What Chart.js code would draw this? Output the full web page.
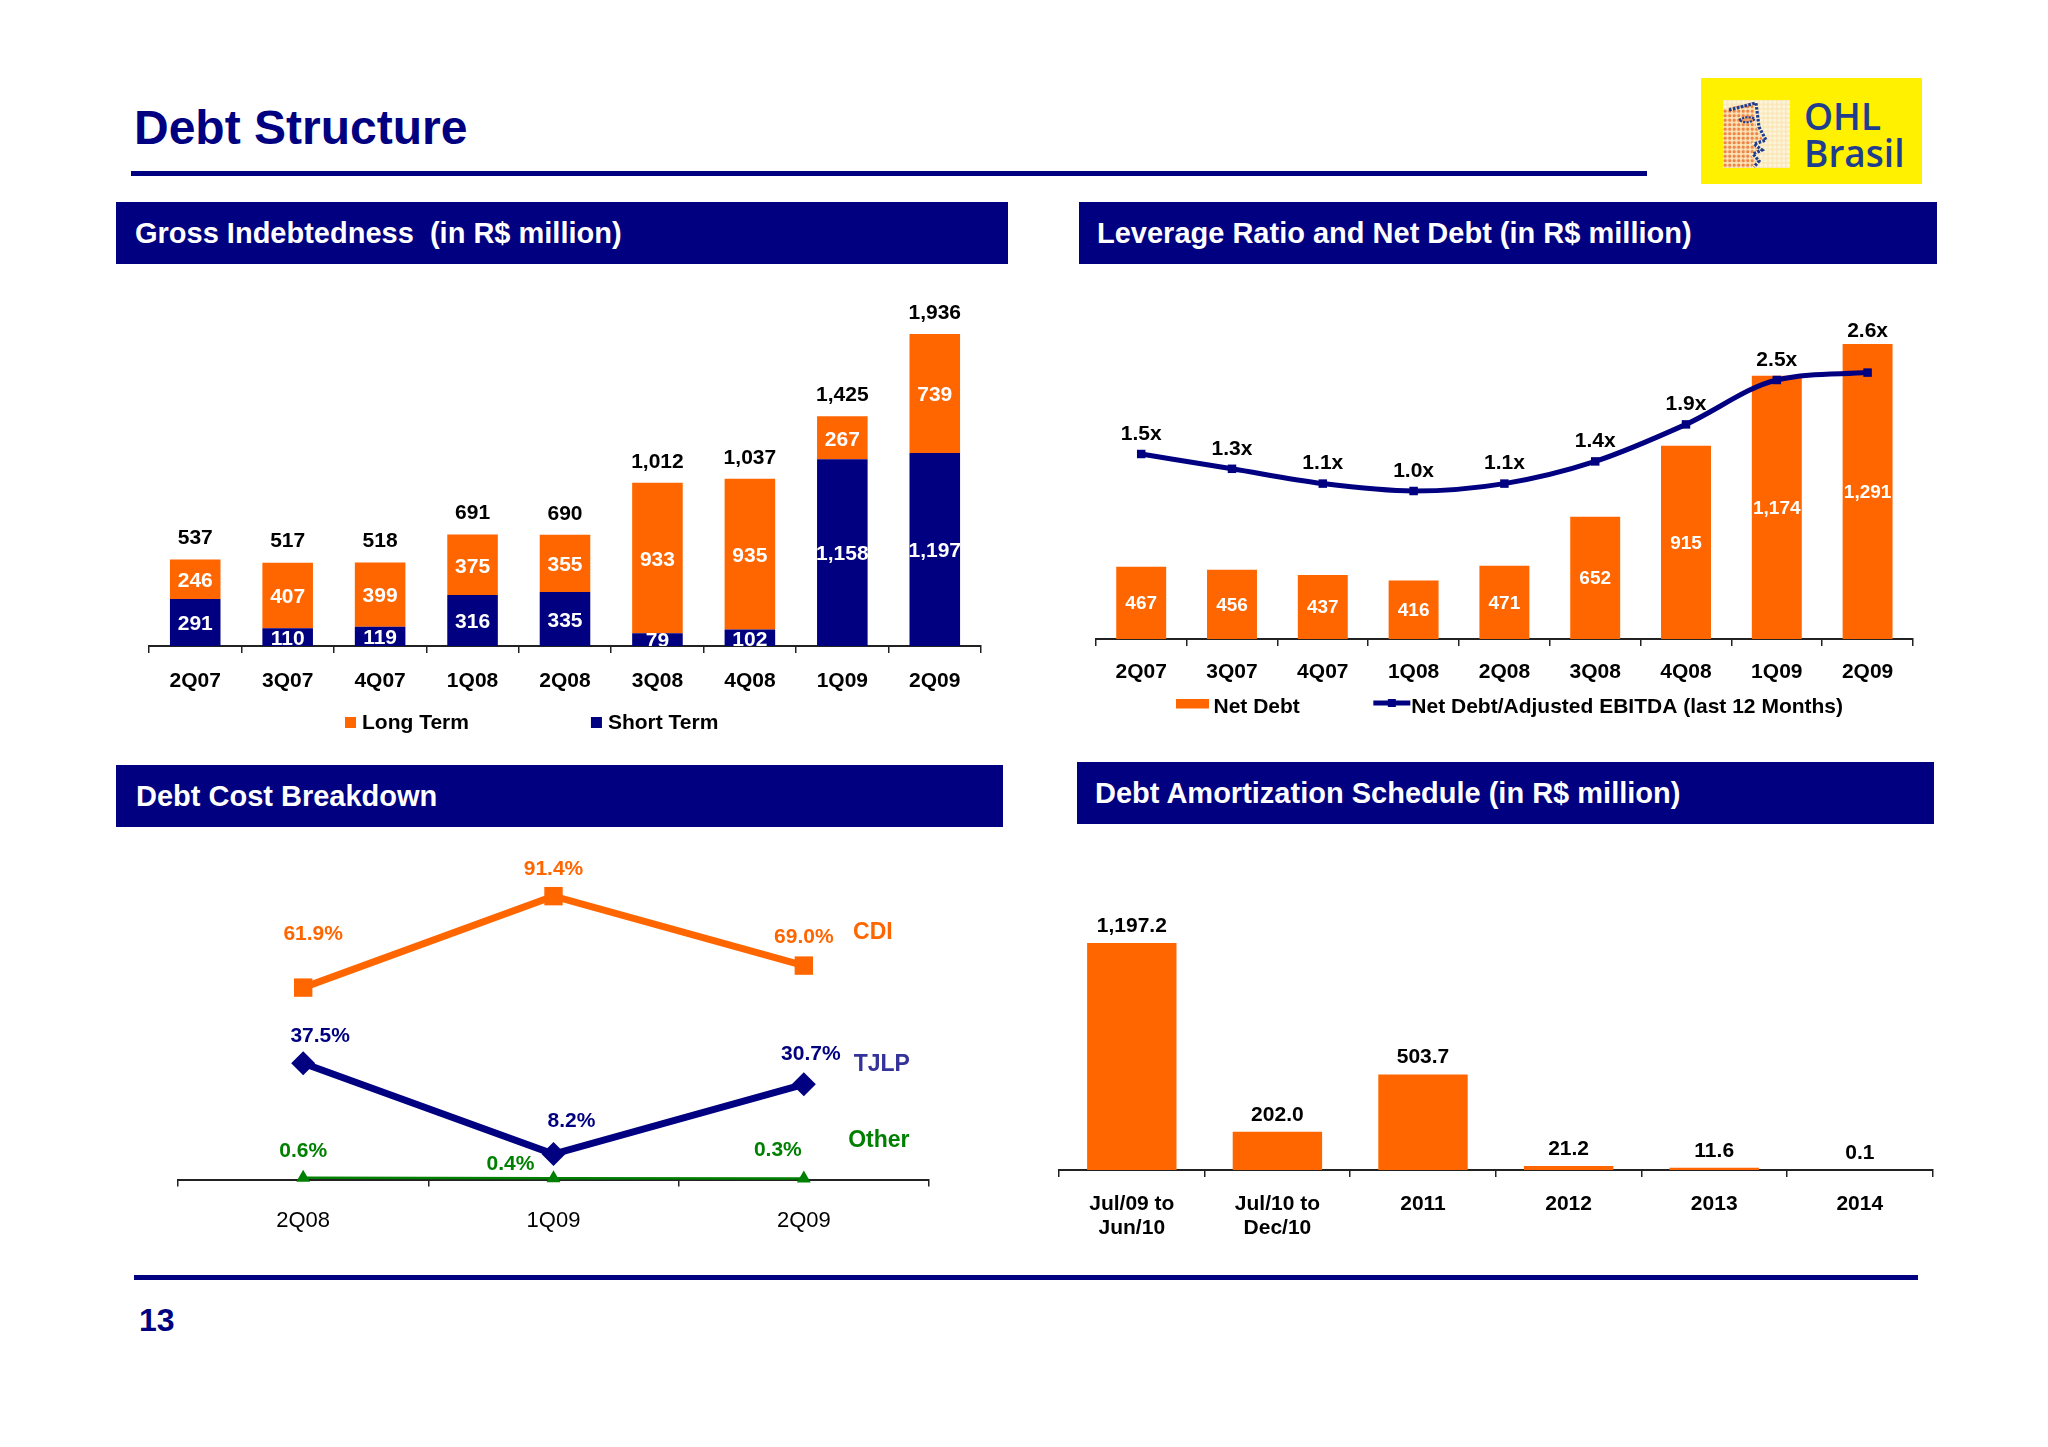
<!DOCTYPE html>
<html>
<head>
<meta charset="utf-8">
<title>Debt Structure</title>
<script src="https://cdn.jsdelivr.net/npm/chart.js@4.4.1/dist/chart.umd.min.js"></script>
<style>
  body { margin: 0; width: 2048px; height: 1447px; background: #fff; position: relative; overflow: hidden;
         font-family: "Liberation Sans", Arial, sans-serif; }
  canvas { position: absolute; }
  .rule { position: absolute; background: #000080; }
  .hdr { position: absolute; background: #000080; color: #fff; font-weight: bold; font-size: 29px;
         line-height: 62px; height: 62px; box-sizing: border-box; white-space: pre; }
  #title { position: absolute; left: 134px; top: 104px; font-size: 48px; line-height: 48px; font-weight: bold; color: #000080; }
  #page { position: absolute; left: 139px; top: 1304px; font-size: 32px; line-height: 32px; font-weight: bold; color: #000080; }
  #logo { position: absolute; left: 1701px; top: 78px; width: 221px; height: 106px; background: #FFF100; }
  #logo span { position: absolute; left: 103px; font-family: "Open Sans", sans-serif; font-weight: 600;
               font-size: 37px; line-height: 37px; color: #1F3D8F; }
</style>
</head>
<body>

<div id="title">Debt Structure</div>
<div class="rule" style="left:131px;top:171px;width:1516px;height:5px"></div>

<div id="logo">
  <svg width="67" height="68" viewBox="0 0 67 68" style="position:absolute;left:22px;top:22px">
    <defs>
      <pattern id="dotsO" width="4.5" height="4.5" patternUnits="userSpaceOnUse"><circle cx="2.2" cy="2.2" r="1.7" fill="#EE8445"/></pattern>
      <pattern id="dotsC" width="4.5" height="4.5" patternUnits="userSpaceOnUse"><circle cx="2.2" cy="2.2" r="1.7" fill="#FBF5DC"/></pattern>
    </defs>
    <rect width="67" height="68" fill="#FBE6B8"/>
    <rect width="67" height="68" fill="url(#dotsC)"/>
    <path d="M0,9 L30,2 L33,26 L40,40 L28,43 L36,50 L27,54 L33,62 L28,68 L0,68 Z" fill="url(#dotsO)"/>
    <path d="M6,10 L33,3 L36,27 L43,40 L31,44 L39,50 L30,54 L36,61 L31,67" fill="none" stroke="#1F3D8F" stroke-width="3.2" stroke-dasharray="2.6 1.4"/>
    <path d="M16,20 Q24,15 32,19 Q24,25 16,20 Z" fill="#F3A060" stroke="#1F3D8F" stroke-width="2.2" stroke-dasharray="2.2 1.2"/>
  </svg>
  <span style="top:19px">OHL</span>
  <span style="top:56px">Brasil</span>
</div>

<div class="hdr" style="left:116px;top:202px;width:892px;padding-left:19px">Gross Indebtedness  (in R$ million)</div>
<div class="hdr" style="left:1079px;top:202px;width:858px;padding-left:18px">Leverage Ratio and Net Debt (in R$ million)</div>
<div class="hdr" style="left:116px;top:765px;width:887px;padding-left:20px">Debt Cost Breakdown</div>
<div class="hdr" style="left:1077px;top:762px;width:857px;padding-left:18px">Debt Amortization Schedule (in R$ million)</div>

<canvas id="gross" width="892" height="480" style="left:116px;top:265px"></canvas>
<canvas id="leverage" width="858" height="460" style="left:1079px;top:266px"></canvas>
<canvas id="cost" width="887" height="430" style="left:116px;top:830px"></canvas>
<canvas id="amort" width="895" height="430" style="left:1050px;top:826px"></canvas>

<div class="rule" style="left:134px;top:1275px;width:1784px;height:5px"></div>
<div id="page">13</div>

<script>
// gross indebtedness
const quarters = ['2Q07', '3Q07', '4Q07', '1Q08', '2Q08', '3Q08', '4Q08', '1Q09', '2Q09'];
const shortTerm = [291, 110, 119, 316, 335, 79, 102, 1158, 1197];
const longTerm = [246, 407, 399, 375, 355, 933, 935, 267, 739];

// leverage ratio and net debt
const netDebt = [467, 456, 437, 416, 471, 652, 915, 1174, 1291];
const leverage = [1.5, 1.3, 1.1, 1.0, 1.1, 1.4, 1.9, 2.5, 2.6];

// debt cost breakdown (%)
const costPeriods = ['2Q08', '1Q09', '2Q09'];
const cdi = [61.9, 91.4, 69.0];
const tjlp = [37.5, 8.2, 30.7];
const other = [0.6, 0.4, 0.3];

// amortization schedule
const amortPeriods = [['Jul/09 to', 'Jun/10'], ['Jul/10 to', 'Dec/10'], '2011', '2012', '2013', '2014'];
const amortValues = [1197.2, 202.0, 503.7, 21.2, 11.6, 0.1];

const ORANGE = '#FF6600';
const NAVY = '#000080';
const GREEN = '#008000';
const FONT = '"Liberation Sans", Arial, sans-serif';

Chart.defaults.font.family = FONT;
Chart.defaults.color = '#000';

function xAxis(tickLen, pad, font) {
    return {
        offset: true,
        grid: { offset: true, drawOnChartArea: false, tickLength: tickLen, color: '#222', lineWidth: 1.5 },
        border: { color: '#222', width: 2 },
        ticks: { color: '#000', font: font, padding: pad, maxRotation: 0, autoSkip: false }
    };
}

function fmt(v, dec) {
    return v.toLocaleString('en-US', { minimumFractionDigits: dec || 0, maximumFractionDigits: dec || 0 });
}

const baseOptions = {
    responsive: false,
    animation: false,
    devicePixelRatio: 1,
    events: []
};

// ---------- Gross Indebtedness ----------
const grossLabels = {
    id: 'grossLabels',
    afterDatasetsDraw(chart) {
        const { ctx, chartArea: area } = chart;
        const shortBars = chart.getDatasetMeta(0).data;
        const longBars = chart.getDatasetMeta(1).data;
        ctx.save();
        ctx.font = 'bold 21px ' + FONT;
        ctx.textAlign = 'center';
        ctx.textBaseline = 'middle';

        // values inside the segments, cut at the axis like the original
        ctx.save();
        ctx.beginPath();
        ctx.rect(area.left, 0, area.width, area.bottom);
        ctx.clip();
        ctx.fillStyle = '#fff';
        shortBars.forEach((b, i) => ctx.fillText(fmt(shortTerm[i]), b.x, (b.y + b.base) / 2 + 2));
        longBars.forEach((b, i) => ctx.fillText(fmt(longTerm[i]), b.x, (b.y + b.base) / 2 + 2));
        ctx.restore();

        // totals on top
        ctx.fillStyle = '#000';
        longBars.forEach((b, i) => ctx.fillText(fmt(shortTerm[i] + longTerm[i]), b.x, b.y - 21));

        // legend (Long Term first)
        let lx = area.left + 196;
        const ly = area.bottom + 77;
        ctx.textAlign = 'left';
        chart.data.datasets.slice().reverse().forEach(ds => {
            ctx.fillStyle = ds.backgroundColor;
            ctx.fillRect(lx, ly - 6, 11, 11);
            ctx.fillStyle = '#000';
            ctx.fillText(ds.label, lx + 17, ly);
            lx += 17 + ctx.measureText(ds.label).width + 122;
        });
        ctx.restore();
    }
};

new Chart(document.getElementById('gross'), {
    type: 'bar',
    data: {
        labels: quarters,
        datasets: [
            { label: 'Short Term', data: shortTerm, backgroundColor: NAVY },
            { label: 'Long Term', data: longTerm, backgroundColor: ORANGE }
        ]
    },
    options: {
        ...baseOptions,
        layout: { autoPadding: false, padding: { left: 33, right: 27, top: 10.2, bottom: 36.4 } },
        datasets: { bar: { categoryPercentage: 1, barPercentage: 0.547, borderWidth: 0 } },
        plugins: { legend: { display: false }, tooltip: { enabled: false } },
        scales: {
            x: { ...xAxis(7, 15.2, { size: 21, weight: 'bold' }), stacked: true },
            y: { display: false, stacked: true, min: 0, max: 2300 }
        }
    },
    plugins: [grossLabels]
});

// ---------- Leverage Ratio and Net Debt ----------
const leverageLabels = {
    id: 'leverageLabels',
    afterDatasetsDraw(chart) {
        const { ctx, chartArea: area } = chart;
        const bars = chart.getDatasetMeta(0).data;
        const pts = chart.getDatasetMeta(1).data;
        ctx.save();
        ctx.textAlign = 'center';
        ctx.textBaseline = 'middle';
        ctx.font = 'bold 19px ' + FONT;
        ctx.fillStyle = '#fff';
        // the axis starts at 200, so centre on the visible part of each bar
        bars.forEach((b, i) => ctx.fillText(fmt(netDebt[i]), b.x, (b.y + Math.min(b.base, area.bottom)) / 2 + 1));
        ctx.font = 'bold 21px ' + FONT;
        ctx.fillStyle = '#000';
        pts.forEach((p, i) => ctx.fillText(leverage[i].toFixed(1) + 'x', p.x, Math.min(p.y - 20, bars[i].y - 13)));

        // legend
        const ly = area.bottom + 68.7;
        let lx = area.left + 80.2;
        ctx.textAlign = 'left';
        const barDs = chart.data.datasets[0], lineDs = chart.data.datasets[1];
        ctx.fillStyle = ORANGE;
        ctx.fillRect(lx, ly - 8.7, 33, 9.5);
        ctx.fillStyle = '#000';
        ctx.fillText(barDs.label, lx + 37.5, ly);
        lx += 37.5 + ctx.measureText(barDs.label).width + 73.5;
        ctx.strokeStyle = NAVY;
        ctx.lineWidth = 5;
        ctx.beginPath();
        ctx.moveTo(lx, ly - 4.7);
        ctx.lineTo(lx + 37, ly - 4.7);
        ctx.stroke();
        ctx.fillStyle = NAVY;
        ctx.fillRect(lx + 14.5, ly - 8.7, 8, 8);
        ctx.fillStyle = '#000';
        ctx.fillText(lineDs.label, lx + 38, ly);
        ctx.restore();
    }
};

new Chart(document.getElementById('leverage'), {
    type: 'bar',
    data: {
        labels: quarters,
        datasets: [
            { label: 'Net Debt', data: netDebt, backgroundColor: ORANGE, borderWidth: 0,
              categoryPercentage: 1, barPercentage: 0.55, order: 1, yAxisID: 'y' },
            { type: 'line', label: 'Net Debt/Adjusted EBITDA (last 12 Months)', data: leverage,
              borderColor: NAVY, backgroundColor: NAVY, borderWidth: 5, cubicInterpolationMode: 'monotone',
              pointStyle: 'rect', pointRadius: 6, pointBorderWidth: 0, order: 0, yAxisID: 'y2', clip: false }
        ]
    },
    options: {
        ...baseOptions,
        layout: { autoPadding: false, padding: { left: 16.8, right: 24, top: 21.5, bottom: 27 } },
        plugins: { legend: { display: false }, tooltip: { enabled: false } },
        scales: {
            x: xAxis(7, 13.9, { size: 21, weight: 'bold' }),
            y: { display: false, min: 200, max: 1500 },
            y2: { display: false, min: -1, max: 3.75 }
        }
    },
    plugins: [leverageLabels]
});

// ---------- Debt Cost Breakdown ----------
const costStyle = [
    { nameColor: ORANGE, shift: [[10, -53], [0, -27], [0, -28]], name: [69, -33] },
    { nameColor: '#333399', shift: [[17, -27], [18, -33], [7, -30]], name: [78, -20] },
    { nameColor: GREEN, shift: [[0, -26], [-43, -14], [-26, -28]], name: [75, -38] }
];

const costLabels = {
    id: 'costLabels',
    afterDatasetsDraw(chart) {
        const { ctx } = chart;
        ctx.save();
        ctx.textAlign = 'center';
        ctx.textBaseline = 'middle';
        chart.data.datasets.forEach((ds, d) => {
            const st = costStyle[d];
            const pts = chart.getDatasetMeta(d).data;
            ctx.font = 'bold 21px ' + FONT;
            ctx.fillStyle = ds.borderColor;
            pts.forEach((p, i) => ctx.fillText(ds.data[i].toFixed(1) + '%', p.x + st.shift[i][0], p.y + st.shift[i][1]));
            const last = pts[pts.length - 1];
            ctx.font = 'bold 23px ' + FONT;
            ctx.fillStyle = st.nameColor;
            ctx.fillText(ds.label, last.x + st.name[0], last.y + st.name[1]);
        });
        ctx.restore();
    }
};

new Chart(document.getElementById('cost'), {
    type: 'line',
    data: {
        labels: costPeriods,
        datasets: [
            { label: 'CDI', data: cdi, borderColor: ORANGE, backgroundColor: ORANGE, borderWidth: 7,
              pointStyle: 'rect', pointRadius: 13, pointBorderWidth: 0, clip: false },
            { label: 'TJLP', data: tjlp, borderColor: NAVY, backgroundColor: NAVY, borderWidth: 7,
              pointStyle: 'rectRot', pointRadius: 12, pointBorderWidth: 0, clip: false },
            { label: 'Other', data: other, borderColor: GREEN, backgroundColor: GREEN, borderWidth: 2.5,
              pointStyle: 'triangle', pointRadius: 8, pointBorderWidth: 0, clip: false }
        ]
    },
    options: {
        ...baseOptions,
        layout: { autoPadding: false, padding: { left: 62, right: 74, top: 14.7, bottom: 4.9 } },
        plugins: { legend: { display: false }, tooltip: { enabled: false } },
        scales: {
            x: xAxis(7, 21.1, { size: 22 }),
            y: { display: false, min: 0, max: 108 }
        }
    },
    plugins: [costLabels]
});

// ---------- Debt Amortization Schedule ----------
const amortLabels = {
    id: 'amortLabels',
    afterDatasetsDraw(chart) {
        const { ctx } = chart;
        ctx.save();
        ctx.font = 'bold 21px ' + FONT;
        ctx.textAlign = 'center';
        ctx.textBaseline = 'middle';
        ctx.fillStyle = '#000';
        chart.getDatasetMeta(0).data.forEach((b, i) => ctx.fillText(fmt(amortValues[i], 1), b.x, b.y - 17));
        ctx.restore();
    }
};

new Chart(document.getElementById('amort'), {
    type: 'bar',
    data: {
        labels: amortPeriods,
        datasets: [{ label: 'Amortization', data: amortValues, backgroundColor: ORANGE, borderWidth: 0,
                     categoryPercentage: 1, barPercentage: 0.614 }]
    },
    options: {
        ...baseOptions,
        layout: { autoPadding: false, padding: { left: 9, right: 12.4, top: 59.6, bottom: 1.1 } },
        plugins: { legend: { display: false }, tooltip: { enabled: false } },
        scales: {
            x: xAxis(7, 15.4, { size: 21, weight: 'bold', lineHeight: 1.12 }),
            y: { display: false, min: 0, max: 1500 }
        }
    },
    plugins: [amortLabels]
});
</script>
</body>
</html>
